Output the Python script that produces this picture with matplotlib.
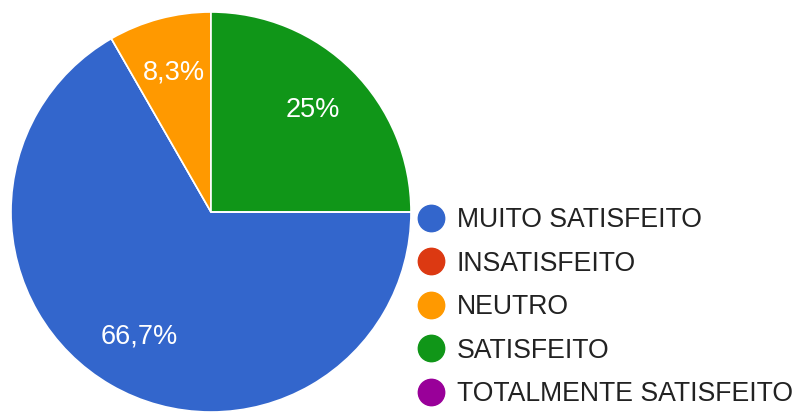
import matplotlib
matplotlib.use('Agg')
import matplotlib.pyplot as plt
from matplotlib.lines import Line2D

labels = ['MUITO SATISFEITO', 'INSATISFEITO', 'NEUTRO', 'SATISFEITO', 'TOTALMENTE SATISFEITO']
values = [66.7, 0, 8.3, 25, 0]
pct_text = ['66,7%', '', '8,3%', '25%', '']
colors = ['#3366CC', '#DC3912', '#FF9900', '#109618', '#990099']

plt.rcParams['font.family'] = ['Liberation Sans', 'DejaVu Sans']

W, H = 804, 412
fig = plt.figure(figsize=(W / 100, H / 100), dpi=100)

# pie centre ~ (211, 212) px, radius ~200 px
cx, cy, r = 211, 212, 200
ax = fig.add_axes([(cx - r) / W, (H - cy - r) / H, 2 * r / W, 2 * r / H])

wedges, texts = ax.pie(values, colors=colors, startangle=0, counterclock=False,
                       labels=pct_text, labeldistance=0.72,
                       wedgeprops=dict(edgecolor='white', linewidth=1.2),
                       textprops=dict(color='white', fontsize=19.5, ha='center', va='center'))
ax.set_xlim(-1, 1)
ax.set_ylim(-1, 1)
ax.set_aspect('equal')
ax.axis('off')

handles = [Line2D([], [], marker='o', linestyle='none', markersize=19,
                  markerfacecolor=c, markeredgecolor=c) for c in colors]
fig.legend(handles, labels, loc='upper left', bbox_to_anchor=(418 / W, 205 / H),
           frameon=False, fontsize=19.2, labelcolor='#222222', handlelength=1.0,
           handletextpad=0.45, labelspacing=0.66, borderpad=0, borderaxespad=0)

fig.savefig('out.png', dpi=100)
